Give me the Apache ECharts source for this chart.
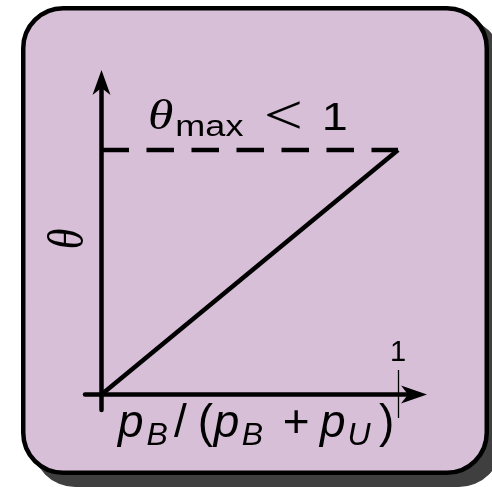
<!DOCTYPE html>
<html>
<head>
<meta charset="utf-8">
<script src="https://cdn.jsdelivr.net/npm/echarts@6/dist/echarts.min.js"></script>
<style>
  html, body { margin: 0; padding: 0; background: #ffffff; }
  #chart { width: 492px; height: 487px; }
</style>
</head>
<body>
<div id="chart"></div>
<script>
// Share of B, p_B/(p_B+p_U), against theta: a straight rise up to theta_max
const shareValues = [0, 1];
const thetaValues = [0, 0.8];
const thetaMax = 0.8;
const capShare = [0, 1];
const xTickValues = [1];
const xTickLabels = ['1'];

const SANS = 'Liberation Sans';
const SERIF = 'Liberation Serif';

const riseData = shareValues.map((x, i) => [x, thetaValues[i]]);
const capData = capShare.map(x => [x, thetaMax]);

const xMin = -0.0556, xMax = 1.0337;
const yMin = -0.0507, yMax = 1.0029;

const chart = echarts.init(document.getElementById('chart'), null, { renderer: 'canvas' });

chart.setOption({
  animation: false,
  grid: { left: 85, right: 84, top: 88, bottom: 77 },
  xAxis: [
    {
      type: 'value', min: xMin, max: xMax,
      axisLine: { onZero: true, lineStyle: { color: '#000', width: 4.5 } },
      axisTick: { show: false }, axisLabel: { show: false }, splitLine: { show: false }
    },
    {
      type: 'value', min: xMin, max: xMax, position: 'bottom', offset: 8,
      axisLine: { show: false, onZero: false },
      axisTick: {
        show: true, inside: true, length: 48, customValues: xTickValues,
        lineStyle: { color: '#000', width: 1.3 }
      },
      axisLabel: {
        show: true, inside: true, margin: 51, customValues: xTickValues,
        formatter: v => xTickLabels[xTickValues.indexOf(v)] || '',
        fontFamily: SANS, fontSize: 29, color: '#000'
      },
      splitLine: { show: false }
    }
  ],
  yAxis: {
    type: 'value', min: yMin, max: yMax,
    axisLine: { onZero: true, lineStyle: { color: '#000', width: 4.5 } },
    axisTick: { show: false }, axisLabel: { show: false }, splitLine: { show: false }
  },
  series: [
    {
      type: 'line', data: riseData, symbol: 'none', silent: true,
      lineStyle: { color: '#000', width: 4.5 }
    },
    {
      type: 'line', data: capData, symbol: 'none', silent: true,
      lineStyle: { color: '#000', width: 4.5, type: [27.5, 17.5] }
    }
  ]
});

// Positions taken from the chart's own scales
const o = chart.convertToPixel({ gridIndex: 0 }, [0, 0]);
const cap = chart.convertToPixel({ gridIndex: 0 }, [0, thetaMax]);
const xEnd = chart.convertToPixel({ gridIndex: 0 }, [xMax, 0]);
const yEnd = chart.convertToPixel({ gridIndex: 0 }, [0, yMax]);

function richText(tokens) {
  const rich = {};
  let text = '';
  tokens.forEach((t, i) => {
    const name = 't' + i;
    rich[name] = {
      fontFamily: t.family, fontSize: t.size, fontStyle: t.italic ? 'italic' : 'normal',
      lineHeight: 50, verticalAlign: 'top', fill: '#000',
      padding: [t.top || 0, 0, 0, t.left || 0]
    };
    text += '{' + name + '|' + t.text + '}';
  });
  return { text, rich };
}

const MAIN = 46, SUB = 32, SUB_DROP = 18.9;
const xTitle = richText([
  { text: 'p', family: SANS, size: MAIN, italic: true },
  { text: 'B', family: SANS, size: SUB, italic: true, top: SUB_DROP, left: 3 },
  { text: '/', family: SANS, size: MAIN, left: 6 },
  { text: '(', family: SANS, size: MAIN, left: 11 },
  { text: 'p', family: SANS, size: MAIN, italic: true, left: 0.7 },
  { text: 'B', family: SANS, size: SUB, italic: true, top: SUB_DROP, left: 2.5 },
  { text: '+', family: SANS, size: MAIN, left: 19.5 },
  { text: 'p', family: SANS, size: MAIN, italic: true, left: 10.4 },
  { text: 'U', family: SANS, size: SUB, italic: true, top: SUB_DROP, left: 2 },
  { text: ')', family: SANS, size: MAIN, left: 8.5 }
]);

const capTitle = richText([
  { text: 'θ', family: SERIF, size: 43, italic: true, top: 8 },
  { text: 'max', family: SANS, size: 30, top: 24.6, left: 1.7 },
  { text: '<', family: SERIF, size: 58, top: 1.3, left: 17 },
  { text: '1', family: SANS, size: 39, top: 12, left: 15.5 }
]);

// Arrow heads sitting on the axis ends
const xArrow = [[xEnd[0] + 19, xEnd[1]], [xEnd[0] - 7, xEnd[1] - 9], [xEnd[0], xEnd[1]], [xEnd[0] - 7, xEnd[1] + 9]];
const yArrow = [[yEnd[0], yEnd[1] - 18], [yEnd[0] + 9, yEnd[1] + 7], [yEnd[0], yEnd[1]], [yEnd[0] - 9, yEnd[1] + 7]];

chart.setOption({
  graphic: [
    {
      id: 'shadow', type: 'rect', z: -100, silent: true,
      shape: { x: 33, y: 18, width: 468, height: 469, r: 42 },
      style: { fill: '#3f3f3f' }
    },
    {
      id: 'panel', type: 'rect', z: -90, silent: true,
      shape: { x: 23.25, y: 8.25, width: 463.5, height: 464.5, r: 40 },
      style: { fill: '#d8bfd8', stroke: '#000', lineWidth: 4.5 }
    },
    { id: 'xArrow', type: 'polygon', z: 100, silent: true, shape: { points: xArrow }, style: { fill: '#000' } },
    { id: 'yArrow', type: 'polygon', z: 100, silent: true, shape: { points: yArrow }, style: { fill: '#000' } },
    {
      id: 'xTitle', type: 'text', z: 100, silent: true,
      x: o[0] + 16.5, y: o[1] + 6.5,
      style: { text: xTitle.text, rich: xTitle.rich, x: 0, y: 0, align: 'left', verticalAlign: 'top' }
    },
    {
      id: 'capTitle', type: 'text', z: 100, silent: true,
      x: o[0] + 46.5, y: cap[1] - 62, scaleX: 1.2,
      style: { text: capTitle.text, rich: capTitle.rich, x: 0, y: 0, align: 'left', verticalAlign: 'top' }
    },
    {
      id: 'yTitle', type: 'text', z: 100, silent: true,
      x: o[0] - 31.5, y: o[1] - 155.5, rotation: Math.PI / 2, scaleY: 1.2,
      style: {
        text: 'θ', x: 0, y: 0, align: 'center', verticalAlign: 'middle',
        fontFamily: SERIF, fontSize: 42, fontStyle: 'italic', fill: '#000'
      }
    }
  ]
});
</script>
</body>
</html>
